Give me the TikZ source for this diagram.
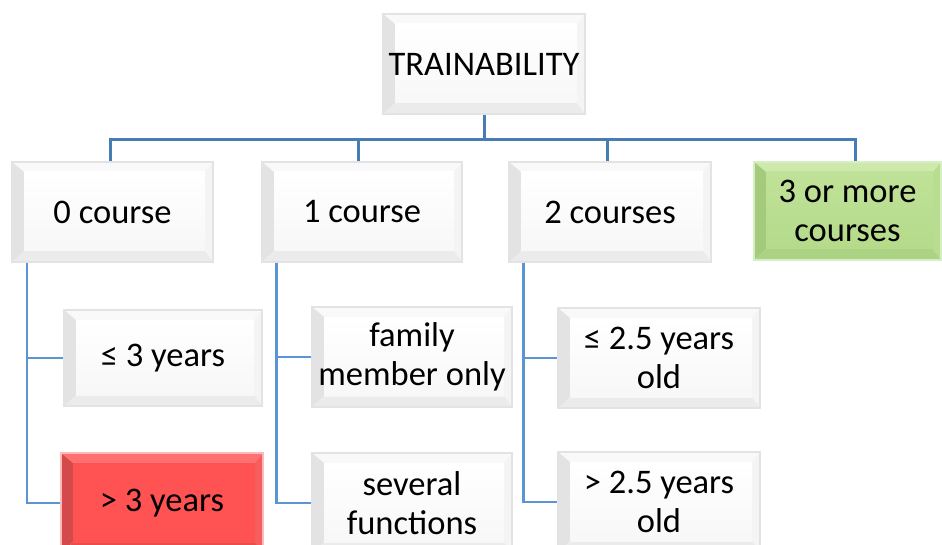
\documentclass[tikz,border=0pt]{standalone}
\usepackage{fontspec}
\setmainfont{Carlito}
\usetikzlibrary{calc}
\definecolor{topconn}{RGB}{70,125,180}
\definecolor{subconn}{RGB}{90,150,212}
\definecolor{redface}{RGB}{255,82,82}
\definecolor{redleft}{RGB}{212,74,74}
\definecolor{redbot}{RGB}{232,78,78}
\definecolor{redtop}{RGB}{255,112,112}
\definecolor{redright}{RGB}{244,94,94}
\definecolor{redline}{RGB}{255,185,185}
\definecolor{grnface}{RGB}{192,226,152}
\definecolor{grnfaceb}{RGB}{180,218,138}
\definecolor{grnleft}{RGB}{164,202,124}
\definecolor{grnbot}{RGB}{172,210,132}
\definecolor{grntop}{RGB}{205,234,172}
\definecolor{grnright}{RGB}{184,220,144}
\definecolor{grnline}{RGB}{214,238,196}
\tikzset{
  bevcols/.code n args={6}{\def\bevA{#1}\def\bevB{#2}\def\bevL{#3}\def\bevT{#4}\def\bevR{#5}\def\bevD{#6}},
  bevbase/.style={minimum width=200, minimum height=100, inner sep=0pt,
    line width=1.2pt, align=center,
    font=\fontsize{34.5}{39.5}\selectfont,
    path picture={
      \path (path picture bounding box.north west) coordinate (pnw)
            (path picture bounding box.north east) coordinate (pne)
            (path picture bounding box.south west) coordinate (psw)
            (path picture bounding box.south east) coordinate (pse);
      \path ($(pnw)+(12,10)$) coordinate (inw)
            ($(pne)+(-8,10)$) coordinate (ine)
            ($(psw)+(12,-11)$) coordinate (isw)
            ($(pse)+(-8,-11)$) coordinate (ise);
      \fill[\bevT] (pnw) -- (pne) -- (ine) -- (inw) -- cycle;
      \fill[\bevR] (pne) -- (pse) -- (ise) -- (ine) -- cycle;
      \fill[\bevD] (psw) -- (pse) -- (ise) -- (isw) -- cycle;
      \fill[\bevL] (pnw) -- (psw) -- (isw) -- (inw) -- cycle;
      \shade[top color=\bevA, bottom color=\bevB] (inw) rectangle (ise);
    }},
  wbox/.style={bevbase, draw=gray!22, bevcols={white}{gray!6}{gray!22}{gray!5}{gray!9}{gray!16}},
  rbox/.style={bevbase, draw=redline, bevcols={redface}{redface}{redleft}{redtop}{redright}{redbot}},
  gbox/.style={bevbase, draw=grnline, bevcols={grnface}{grnfaceb}{grnleft}{grntop}{grnright}{grnbot}},
  tconn/.style={draw=topconn, line width=3pt},
  sconn/.style={draw=subconn, line width=2.4pt}
}
\begin{document}
\begin{tikzpicture}[x=1pt,y=-1pt]
\useasboundingbox (0,0) rectangle (942,545);
% nodes
\node[wbox, minimum width=202] (T) at (484,64) {TRAINABILITY};
\node[wbox, minimum width=201] (c0) at (112.5,212) {0 course};
\node[wbox] (c1) at (362,212) {1 course};
\node[wbox, minimum width=202] (c2) at (610,212) {2 courses};
\node[gbox, minimum width=187, minimum height=98] (c3) at (847.5,211) {3 or more\\courses};
\node[wbox, minimum width=198, minimum height=96] (a1) at (163,358) {≤ 3 years};
\node[rbox, minimum width=202] (a2) at (162,503) {> 3 years};
\node[wbox] (b1) at (412,357) {family\\member only};
\node[wbox] (b2) at (412,503) {several\\functions};
\node[wbox, minimum width=202] (d1) at (659,358) {≤ 2.5 years\\old};
\node[wbox, minimum width=202] (d2) at (659,502) {> 2.5 years\\old};
% top connectors
\coordinate (hub) at ($(T.south)+(0,25)$);
\draw[tconn] (T.south) -- (hub);
\draw[tconn] (hub) -| ($(c0.north)+(-2.5,0)$);
\draw[tconn] (hub) -| ($(c1.north)+(-4,0)$);
\draw[tconn] (hub) -| ($(c2.north)+(-3,0)$);
\draw[tconn] (hub) -| ($(c3.north)+(7.5,0)$);
% child connectors
\draw[sconn] ($(c0.south west)+(15.5,0)$) |- (a1.west);
\draw[sconn] ($(c0.south west)+(15.5,0)$) |- (a2.west);
\draw[sconn] ($(c1.south west)+(15,0)$) |- (b1.west);
\draw[sconn] ($(c1.south west)+(15,0)$) |- (b2.west);
\draw[sconn] ($(c2.south west)+(15,0)$) |- (d1.west);
\draw[sconn] ($(c2.south west)+(15,0)$) |- (d2.west);
\end{tikzpicture}
\end{document}
